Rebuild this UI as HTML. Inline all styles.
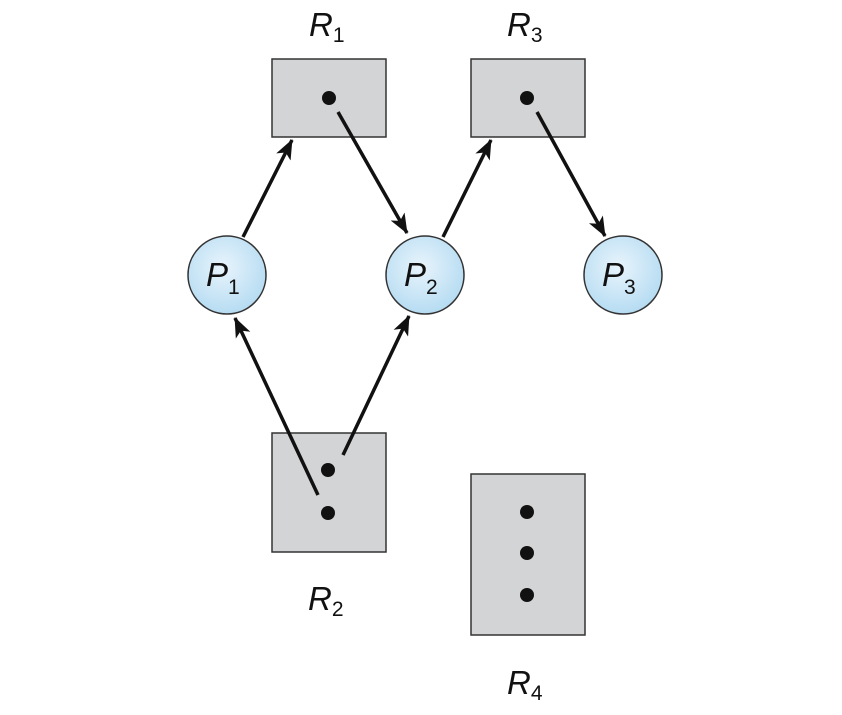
<!DOCTYPE html>
<html><head><style>
body{margin:0;background:#fff;}
text{font-family:"Liberation Sans",sans-serif;font-style:italic;}
</style></head><body>
<svg width="842" height="710" viewBox="0 0 842 710">
<defs>
<radialGradient id="g" cx="0.45" cy="0.4" r="0.6">
<stop offset="0" stop-color="#e8f4fc"/><stop offset="1" stop-color="#b6dcf2"/>
</radialGradient>
<marker id="a" markerWidth="20" markerHeight="16" refX="19" refY="8" orient="auto" markerUnits="userSpaceOnUse" viewBox="0 0 20 16">
<path d="M0,0 L20,8 L0,16 L5,8 z" fill="#111"/>
</marker>
</defs>
<g fill="#d3d4d5" stroke="#333" stroke-width="1.5">
<rect x="272" y="59" width="114" height="78"/>
<rect x="471" y="59" width="114" height="78"/>
<rect x="272" y="433" width="114" height="119"/>
<rect x="471" y="474" width="114" height="161"/>
</g>
<g fill="#111">
<circle cx="329" cy="98" r="7"/><circle cx="527" cy="98" r="7"/>
<circle cx="328" cy="470" r="7"/><circle cx="328" cy="513" r="7"/>
<circle cx="527" cy="512" r="7"/><circle cx="527" cy="553" r="7"/><circle cx="527" cy="595" r="7"/>
</g>
<g fill="url(#g)" stroke="#333" stroke-width="1.5">
<circle cx="227" cy="275" r="39"/><circle cx="425" cy="275" r="39"/><circle cx="623" cy="275" r="39"/>
</g>
<g stroke="#111" stroke-width="3.5" marker-end="url(#a)" fill="none">
<line x1="243" y1="237" x2="292" y2="140"/>
<line x1="338" y1="112" x2="407" y2="233"/>
<line x1="443" y1="237" x2="491" y2="140"/>
<line x1="537" y1="112" x2="605" y2="236"/>
<line x1="318" y1="495" x2="235" y2="318"/>
<line x1="343" y1="455" x2="409" y2="316"/>
</g>
<g font-size="33" fill="#111">
<text x="309" y="36">R<tspan font-size="21" dy="6" font-style="normal">1</tspan></text>
<text x="507" y="36">R<tspan font-size="21" dy="6" font-style="normal">3</tspan></text>
<text x="308" y="610">R<tspan font-size="21" dy="6" font-style="normal">2</tspan></text>
<text x="507" y="694">R<tspan font-size="21" dy="6" font-style="normal">4</tspan></text>
<text x="206" y="286">P<tspan font-size="21" dy="8" font-style="normal">1</tspan></text>
<text x="404" y="286">P<tspan font-size="21" dy="8" font-style="normal">2</tspan></text>
<text x="602" y="286">P<tspan font-size="21" dy="8" font-style="normal">3</tspan></text>
</g>
</svg>
</body></html>
